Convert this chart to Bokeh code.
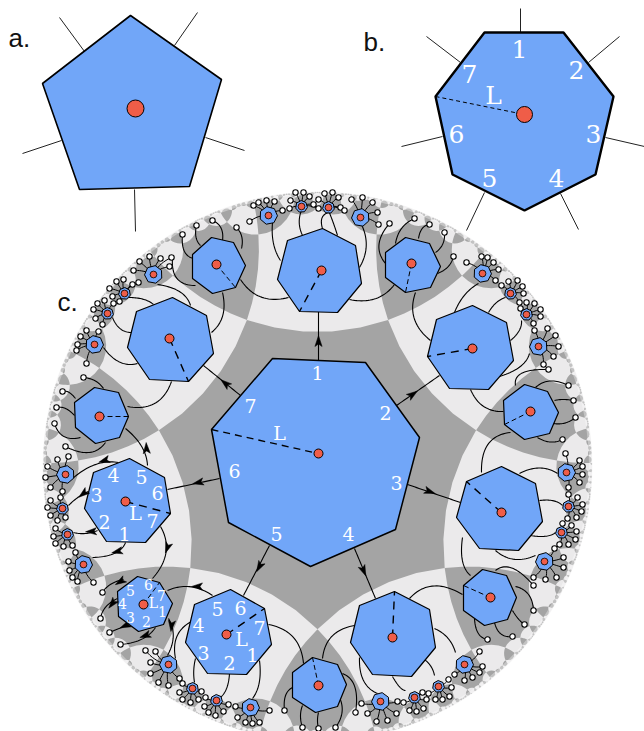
import numpy as np
from bokeh.plotting import figure
from bokeh.models import Range1d
from bokeh.core.properties import value
from bokeh.embed import file_html
from bokeh.resources import INLINE

BLUE, RED, DARK, LIGHT = "#71a6f8", "#ef5d48", "#a4a4a4", "#ebeaeb"
DISC = (317, 466, 275)
SCHLAFLI = (7, 4)

PANEL_A = [(130,15),(221,79),(189,186),(79,189),(42,83)]
PANEL_A_DOT = (135,108)
PANEL_A_SPOKES = [[(59,17),(84,51)],[(197,12),(174,45)],[(244,150),(205,137)],[(134,189),(135,231)],[(22,153),(61,140)]]
PANEL_B = [(484,32),(563,32),(613,96),(595,174),(524,210),(452,174),(435,96)]
PANEL_B_DOT = (524,114)
PANEL_B_SPOKES = [[(520,8),(520,32)],[(426,36),(460,62)],[(619,36),(588,62)],[(644,146),(605,137)],[(401,146),(442,136)],[(466,230),(484,192)],[(578,229),(560,193)]]

CENTRAL = [(272,358),(365,362),(419,437),(395,529),(310,566),(228,522),(211,429)]
# polygon, red dot, dash end
MEDIUM = [
 ([(287,240),(322,228),(355,245),(361,283),(337,312),(299,311),(277,279)],(321,270),(299,311)),
 ([(172,297),(206,315),(213,353),(188,381),(149,379),(127,347),(136,311)],(169,338),(188,381)),
 ([(94,387),(118,392),(128,416),(119,437),(95,443),(75,427),(74,402)],(99,416),(128,416)),
 ([(211,237),(233,242),(245,265),(235,287),(212,293),(192,278),(192,254)],(216,264),(235,287)),
 ([(405,237),(429,243),(440,266),(430,287),(405,292),(385,277),(385,252)],(411,263),(405,292)),
 ([(472,305),(506,322),(513,360),(488,389),(449,388),(427,356),(436,319)],(472,348),(427,356)),
 ([(524,384),(547,391),(558,412),(549,433),(524,439),(504,424),(503,400)],(530,411),(504,424)),
 ([(501,466),(535,483),(542,521),(518,550),(479,548),(456,517),(466,481)],(501,512),(466,481)),
 ([(482,569),(506,575),(516,597),(507,619),(484,625),(463,610),(463,585)],(490,597),(463,585)),
 ([(394,591),(429,609),(435,647),(411,676),(372,674),(350,642),(359,605)],(392,637),(394,591)),
 ([(312,657),(337,664),(346,684),(337,706),(315,712),(292,697),(292,672)],(318,685),(312,657)),
 ([(230,589),(264,608),(271,644),(246,674),(207,673),(185,642),(194,604)],(226,634),(264,608)),
 ([(137,576),(159,582),(172,603),(163,624),(138,631),(118,616),(117,591)],(143,604),(159,582)),
 ([(129,458),(164,477),(170,513),(145,542),(106,541),(84,508),(93,472)],(125,501),(170,513)),
]
CENTRAL_DOT = (318,453)

# cluster: centre, radius, leaves
CLUSTERS = [
 ((268,215),9,[(249,221),(253,205),(258,202),(266,200),(274,201),(282,210)]),
 ((301,206),6,[(289,208),(290,200),(295,192),(303,192),(309,196),(313,204),(318,208)]),
 ((328,207),6,[(318,199),(324,193),(332,192),(338,197),(340,207),(344,210)]),
 ((360,217),9,[(351,199),(362,197),(372,202),(377,212),(378,224)]),
 ((482,273),9,[(466,262),(481,256),(487,257),(493,262),(498,269),(495,280)]),
 ((510,293),6,[(501,285),(508,281),(517,280),(522,286),(523,293),(519,302)]),
 ((526,314),6,[(520,308),(526,302),(534,303),(540,309),(540,316),(533,323)]),
 ((538,346),9,[(534,330),(547,328),(555,335),(558,346),(553,356),(543,364)]),
 ((566,472),9,[(565,453),(579,460),(582,466),(582,474),(579,482),(568,487)]),
 ((568,506),6,[(568,494),(577,497),(582,504),(581,511),(576,517),(567,518)]),
 ((561,532),6,[(562,523),(571,525),(576,531),(575,539),(568,544),(559,544)]),
 ((544,561),9,[(554,548),(563,557),(563,567),(556,577),(545,579),(533,577)]),
 ((464,664),9,[(479,651),(482,666),(479,672),(472,677),(464,680),(454,674)]),
 ((438,686),6,[(448,679),(451,687),(449,696),(442,699),(435,699),(428,693)]),
 ((414,697),6,[(422,692),(426,699),(423,708),(416,711),(409,710),(403,702)]),
 ((380,701),9,[(397,701),(396,713),(387,720),(376,721),(367,713),(361,703)]),
 ((250,707),9,[(269,710),(259,722),(252,723),(245,722),(237,717),(235,706)]),
 ((216,700),6,[(228,704),(223,711),(215,715),(208,712),(204,706),(205,697)]),
 ((192,688),6,[(201,691),(198,699),(190,702),(182,699),(179,692),(182,683)]),
 ((168,664),9,[(179,678),(168,685),(158,682),(150,673),(150,662),(155,651),(145,650)]),
 ((83,564),9,[(93,582),(77,581),(72,577),(69,570),(68,561),(75,552)]),
 ((67,534),6,[(72,545),(63,546),(55,543),(53,536),(55,528)]),
 ((62,508),6,[(65,517),(57,520),(50,515),(47,507),(50,500),(60,497)]),
 ((65,474),9,[(62,491),(50,487),(45,477),(47,466),(57,459),(68,456)]),
 ((94,344),9,[(86,363),(76,350),(77,344),(80,336),(86,330),(98,331)]),
 ((107,313),6,[(102,324),(95,318),(93,309),(97,303),(104,300),(113,303)]),
 ((124,293),6,[(119,301),(112,296),(109,288),(116,281),(123,279),(132,284),(138,282)]),
 ((153,274),9,[(133,270),(139,261),(149,256),(160,258),(171,257),(169,266)]),
]

# free leaves carried by the medium heptagons
LEAVES = [(182,234),(196,225),(212,220),(236,227),(83,377),(62,391),(56,407),(54,423),(65,446),
 (389,223),(414,218),(429,224),(444,232),(453,256),(548,369),(568,385),(573,400),(575,417),(562,439),
 (533,585),(533,610),(524,624),(512,636),(487,639),(102,592),(100,618),(109,632),(120,644),
 (284,710),(302,727),(318,728),(335,727),(355,712)]

LINKS = [
 [(318,360),(318,311)],[(396,405),(439,375)],[(407,484),(460,502)],[(354,548),(375,598)],
 [(269,545),(243,595)],[(219,478),(167,489)],[(240,395),(203,365)],
 [(147,465),(146,445),(125,428)],[(118,462),(95,458),(72,478)],[(88,491),(78,495),(68,505)],
 [(97,530),(85,535),(73,532)],[(125,542),(120,556),(92,557)],[(160,526),(175,552),(152,578)],
 [(123,579),(108,582),(102,592)],[(117,598),(102,605),(100,618)],[(132,623),(118,628),(109,632)],
 [(155,627),(145,642),(120,644)],[(168,618),(178,635),(167,655)],[(212,595),(190,580),(167,590)],
 [(191,621),(170,632),(175,658)],[(195,658),(192,670),(194,682)],[(229,673),(228,690),(220,697)],
 [(259,660),(262,685),(252,698)],[(268,624),(300,630),(303,663)],
 [(292,687),(282,692),(284,710)],[(302,705),(298,715),(302,727)],[(318,712),(316,720),(318,728)],
 [(339,697),(346,712),(335,727)],[(342,673),(360,680),(355,712)],[(322,658),(325,630),(354,625)],
 [(409,598),(430,575),(462,594)],[(434,628),(450,635),(455,652)],[(424,659),(432,665),(434,675)],
 [(392,676),(400,690),(405,690)],[(359,657),(358,685),(377,693)],
 [(495,570),(510,558),(533,585)],[(515,586),(532,590),(533,610)],[(512,610),(518,620),(524,624)],
 [(494,622),(498,638),(512,636)],[(474,618),(475,637),(487,639)],[(462,537),(458,565),(470,575)],
 [(519,473),(540,462),(557,473)],[(539,500),(555,498),(562,505)],[(530,535),(548,538),(555,532)],
 [(495,550),(512,565),(535,555)],[(470,389),(480,412),(503,411)],[(510,432),(480,435),(481,472)],
 [(454,312),(462,292),(478,283)],[(488,312),(495,300),(505,297)],[(510,340),(522,330),(521,320)],
 [(499,376),(525,368),(529,353)],[(415,292),(405,320),(430,340)],[(349,299),(378,305),(394,284)],
 [(385,263),(370,245),(389,223)],[(359,267),(372,245),(360,222)],[(395,243),(398,225),(414,218)],
 [(418,238),(420,225),(429,224)],[(435,252),(445,245),(444,232)],[(437,273),(450,268),(453,256)],
 [(337,235),(333,222),(328,210)],[(302,235),(296,222),(301,210)],[(280,260),(270,245),(272,222)],
 [(240,279),(257,305),(288,297)],[(195,285),(170,285),(172,258)],[(193,258),(180,255),(182,234)],
 [(200,245),(193,238),(196,225)],[(222,240),(224,225),(212,220)],[(241,248),(244,235),(236,227)],
 [(211,332),(228,318),(222,292)],[(157,284),(185,288),(190,305)],[(128,297),(145,297),(153,304)],
 [(112,317),(118,332),(131,332)],[(103,347),(118,368),(137,363)],[(171,381),(160,412),(127,406)],
 [(103,388),(96,378),(83,377)],[(74,415),(65,405),(56,407)],[(75,398),(68,389),(62,391)],
 [(80,437),(60,442),(54,423)],[(105,442),(92,460),(65,446)],
 [(515,385),(512,368),(548,369)],[(535,387),(548,375),(568,385)],[(554,400),(562,398),(573,400)],
 [(553,423),(565,425),(575,417)],[(537,437),(550,445),(562,439)],
 [(322,228),(318,215),(328,212)],
]

# position, point ahead of it
ARROWS = [((318,341),(318,311)),((412,394),(439,375)),((429,491),(460,502)),((363,570),(375,598)),
 ((259,566),(243,595)),((198,482),(167,489)),((225,383),(203,365)),((146,448),(145,430)),
 ((104,460),(85,466)),((83,493),(68,505)),((91,531),(73,532)),((117,551),(92,557)),((167,547),(160,566)),
 ((120,581),(102,592)),((112,603),(100,618)),((125,625),(109,632)),((145,635),(120,644)),
 ((171,625),(169,645)),((197,586),(175,586))]

LABELS_26 = [("1",519,48),("2",576,69),("3",593,133),("4",556,177),("5",489,177),("6",456,133),("7",469,73),("L",493,95)]
LABELS_18 = [("1",317,372),("2",385,412),("3",396,482),("4",348,533),("5",276,533),("6",234,470),("7",250,405),("L",279,432),
 ("5",217,608),("6",240,607),("7",259,627),("L",241,638),("1",252,654),("2",229,662),("3",203,652),("4",198,624),
 ("4",113,474),("5",141,476),("6",157,492),("3",96,494),("L",135,512),("7",152,520),("2",104,521),("1",124,533)]
LABELS_13 = [("5",130,590),("6",148,584),("7",161,595),("L",153,602),("1",162,611),("2",146,621),("3",130,617),("4",122,603)]
PANEL_TEXT = [("a.",8,37),("b.",363,41),("c.",57,301)]


def bez(points, n=24):
    pts = np.array(points, float)
    out = []
    for t in np.linspace(0, 1, n):
        q = pts.copy()
        while len(q) > 1:
            q = (1 - t) * q[:-1] + t * q[1:]
        out.append(q[0])
    return np.array(out)


def tessellation(p_, q_, depth):
    R = np.arccosh(1 / (np.tan(np.pi / p_) * np.tan(np.pi / q_)))
    r0 = np.tanh(R / 2)
    first = r0 * np.exp(1j * (np.pi / 2 + np.pi / p_ + 2 * np.pi * np.arange(p_) / p_))

    def circle(a, b):
        A = np.array([[2 * a.real, 2 * a.imag], [2 * b.real, 2 * b.imag]])
        s = np.linalg.solve(A, [abs(a) ** 2 + 1, abs(b) ** 2 + 1])
        c = complex(s[0], s[1])
        return c, abs(c) ** 2 - 1

    seen = {(0.0, 0.0)}
    frontier = [(first, 0)]
    faces = [(first, 0)]
    for _ in range(depth):
        nxt = []
        for verts, par in frontier:
            for i in range(p_):
                a, b = verts[i], verts[(i + 1) % p_]
                try:
                    c, r2 = circle(a, b)
                except np.linalg.LinAlgError:
                    continue
                v2 = c + r2 / np.conj(verts - c)
                m = v2.mean()
                key = (round(m.real, 5), round(m.imag, 5))
                if key in seen:
                    continue
                seen.add(key)
                if (v2.real.max() - v2.real.min()) * DISC[2] < 1.2:
                    continue
                nxt.append((v2, 1 - par))
        faces += nxt
        frontier = nxt
    return faces, circle


p = figure(width=644, height=731, x_range=Range1d(0, 644), y_range=Range1d(731, 0),
           output_backend="svg", toolbar_location=None, min_border=0)
p.axis.visible = False
p.grid.visible = False
p.outline_line_color = None
p.background_fill_color = "white"
p.border_fill_color = "white"

cx, cy, cr = DISC
p.circle([cx], [cy], radius=cr, fill_color=LIGHT, line_color=None)

faces, circ = tessellation(*SCHLAFLI, 5)
fx, fy = [], []
for verts, par in faces:
    if par != 0:
        continue
    xs, ys = [], []
    n = len(verts)
    for i in range(n):
        a, b = verts[i], verts[(i + 1) % n]
        c, r2 = circ(a, b)
        ta, tb = np.angle(a - c), np.angle(b - c)
        d = (tb - ta + np.pi) % (2 * np.pi) - np.pi
        k = np.linspace(0, 1, 6)[:-1]
        z = c + np.sqrt(r2) * np.exp(1j * (ta + d * k))
        xs += list(cx + cr * z.real)
        ys += list(cy - cr * z.imag)
    fx.append(xs)
    fy.append(ys)
p.patches(fx, fy, fill_color=DARK, line_color=None)
p.circle([cx, cx], [cy, cy], radius=[cr + 1, cr - 2], fill_color=None, line_color="white",
         line_alpha=[0.7, 0.35], line_width=[3, 3])

# spokes of the two top panels
for sp in (PANEL_A_SPOKES, PANEL_B_SPOKES):
    p.multi_line([[a[0], b[0]] for a, b in sp], [[a[1], b[1]] for a, b in sp], line_color="#222222", line_width=1)

# links
curves = [bez(l) for l in LINKS]
p.multi_line([list(c[:, 0]) for c in curves], [list(c[:, 1]) for c in curves], line_color="black", line_width=1.1)

# links of clusters to their leaves
lx, ly = [], []
for (c, r, leaves) in CLUSTERS:
    c_ = np.array(c, float)
    rad = c_ - np.array([cx, cy])
    rad /= np.linalg.norm(rad)
    for l in leaves:
        l_ = np.array(l, float)
        d = np.linalg.norm(l_ - c_)
        u = (l_ - c_) / d
        m = c_ + 0.55 * d * (0.8 * u + 0.35 * rad)
        b = bez([c_, m, l_], 10)
        lx.append(list(b[:, 0]))
        ly.append(list(b[:, 1]))
p.multi_line(lx, ly, line_color="black", line_width=1)

# panels a, b, central
p.patch([v[0] for v in PANEL_A], [v[1] for v in PANEL_A], fill_color=BLUE, line_color="black", line_width=1.6)
p.patch([v[0] for v in PANEL_B], [v[1] for v in PANEL_B], fill_color=BLUE, line_color="black", line_width=2.4)
p.patch([v[0] for v in CENTRAL], [v[1] for v in CENTRAL], fill_color=BLUE, line_color="black", line_width=1.5)

p.patches([[v[0] for v in m[0]] for m in MEDIUM], [[v[1] for v in m[0]] for m in MEDIUM],
          fill_color=BLUE, line_color="black", line_width=1.2)

# small heptagons of the clusters
sx, sy, dr = [], [], []
for (c, r, leaves) in CLUSTERS:
    ang = np.arctan2(c[1] - cy, c[0] - cx) + 2 * np.pi * np.arange(7) / 7
    sx.append(list(c[0] + r * np.cos(ang)))
    sy.append(list(c[1] + r * np.sin(ang)))
p.patches(sx, sy, fill_color=BLUE, line_color="black", line_width=1)

# dashes
p.line([PANEL_B[6][0], PANEL_B_DOT[0]], [PANEL_B[6][1], PANEL_B_DOT[1]], line_color="black", line_width=1, line_dash="4 3")
p.line([CENTRAL[6][0], CENTRAL_DOT[0]], [CENTRAL[6][1], CENTRAL_DOT[1]], line_color="black", line_width=1.3, line_dash="7 5")
for poly, dot, end in MEDIUM:
    size = abs(poly[2][0] - poly[6][0])
    p.line([dot[0], end[0]], [dot[1], end[1]], line_color="black", line_width=1.4 if size > 60 else 1,
           line_dash="8 6" if size > 60 else "5 3")

# red dots
p.circle([PANEL_A_DOT[0], PANEL_B_DOT[0]], [PANEL_A_DOT[1], PANEL_B_DOT[1]], radius=[8.5, 8], fill_color=RED, line_color="black", line_width=1)
big = [CENTRAL_DOT] + [m[1] for m in MEDIUM]
p.circle([d[0] for d in big], [d[1] for d in big], radius=4.5, fill_color=RED, line_color="black", line_width=1)
p.circle([c[0][0] for c in CLUSTERS], [c[0][1] for c in CLUSTERS], radius=3.4, fill_color=RED, line_color="black", line_width=0.8)

# leaves
all_leaves = list(LEAVES) + [l for c in CLUSTERS for l in c[2]]
p.circle([l[0] for l in all_leaves], [l[1] for l in all_leaves], radius=2.7, fill_color="white", line_color="black", line_width=1.1)

# arrow heads
ax, ay = [], []
for (pos, ahead) in ARROWS:
    o = np.array(pos, float)
    u = np.array(ahead, float) - o
    u /= np.linalg.norm(u)
    n = np.array([-u[1], u[0]])
    tri = [o + 6 * u, o - 5 * u + 3.6 * n, o - 2.5 * u, o - 5 * u - 3.6 * n]
    ax.append([t[0] for t in tri])
    ay.append([t[1] for t in tri])
p.patches(ax, ay, fill_color="black", line_color="black", line_width=0.5)

for labels, size in ((LABELS_26, "25px"), (LABELS_18, "19px"), (LABELS_13, "14px")):
    p.text([l[1] for l in labels], [l[2] for l in labels], text=[l[0] for l in labels],
           text_font=value("DejaVu Serif"), text_font_size=size, text_color="white",
           text_align="center", text_baseline="middle")
p.text([l[1] for l in PANEL_TEXT], [l[2] for l in PANEL_TEXT], text=[l[0] for l in PANEL_TEXT],
       text_font=value("Liberation Sans"), text_font_size="26px", text_color="#111111",
       text_align="left", text_baseline="middle")

open("out.html", "w").write(file_html(p, INLINE))
